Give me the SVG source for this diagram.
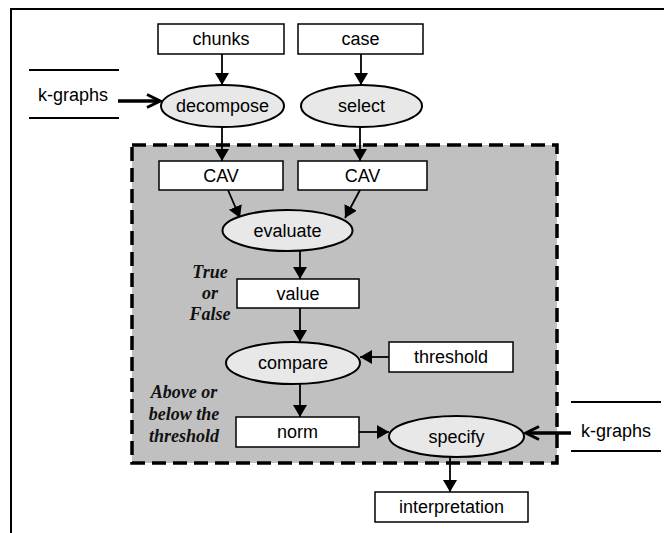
<svg xmlns="http://www.w3.org/2000/svg" width="664" height="533" viewBox="0 0 664 533">
<defs>
<style>
.box{fill:#fff;stroke:#000;stroke-width:1.5}
.ell{fill:#e8e8e8;stroke:#000;stroke-width:2}
.t{font-family:"Liberation Sans",Arial,sans-serif;font-size:18px;text-anchor:middle;fill:#000}
.it{font-family:"Liberation Serif","Times New Roman",serif;font-size:18px;font-style:italic;font-weight:bold;text-anchor:middle;fill:#111}
.c{stroke:#000;stroke-width:1.8;fill:none}
.k{stroke:#000;stroke-width:3.5;fill:none}
.rule{stroke:#000;stroke-width:2}
</style>
<marker id="ah" viewBox="0 0 12 14" refX="12" refY="7" markerWidth="12" markerHeight="14" markerUnits="userSpaceOnUse" orient="auto"><path d="M0,0 L12,7 L0,14 z" fill="#000"/></marker>
<marker id="ao" viewBox="0 0 16 16" refX="14" refY="8" markerWidth="16" markerHeight="16" markerUnits="userSpaceOnUse" orient="auto"><path d="M1,1.5 L14,8 L1,14.5" fill="none" stroke="#000" stroke-width="3"/></marker>
</defs>
<rect width="664" height="533" fill="#fff"/>
<g id="frame">
<path d="M11,533 L11,9 L664,9" fill="none" stroke="#000" stroke-width="2"/>
</g>
<g id="group-box">
<rect x="132" y="145" width="425" height="318" fill="#c0c0c0" stroke="#000" stroke-width="3.5" stroke-dasharray="14,7"/>
</g>
<g id="connectors">
<line class="c" x1="222" y1="54" x2="222" y2="85" marker-end="url(#ah)"/>
<line class="c" x1="361" y1="54" x2="361" y2="85" marker-end="url(#ah)"/>
<line class="c" x1="222" y1="127" x2="222" y2="161" marker-end="url(#ah)"/>
<line class="c" x1="360" y1="127" x2="360" y2="161" marker-end="url(#ah)"/>
<line class="c" x1="228" y1="190" x2="240" y2="218" marker-end="url(#ah)"/>
<line class="c" x1="360" y1="190" x2="345" y2="218" marker-end="url(#ah)"/>
<line class="c" x1="300" y1="251" x2="300" y2="279" marker-end="url(#ah)"/>
<line class="c" x1="300" y1="308" x2="300" y2="342" marker-end="url(#ah)"/>
<line class="c" x1="389" y1="357" x2="360" y2="357" marker-end="url(#ah)"/>
<line class="c" x1="300" y1="384" x2="300" y2="417" marker-end="url(#ah)"/>
<line class="c" x1="359" y1="432" x2="389" y2="432" marker-end="url(#ah)"/>
<line class="c" x1="450" y1="457" x2="450" y2="492" marker-end="url(#ah)"/>
<line class="k" x1="118" y1="101" x2="160" y2="101" marker-end="url(#ao)"/>
<line class="k" x1="571" y1="433" x2="526" y2="433" marker-end="url(#ao)"/>
</g>
<g id="kgraphs-left">
<line class="rule" x1="29" y1="70" x2="119" y2="70"/>
<line class="rule" x1="29" y1="118" x2="119" y2="118"/>
<text class="t" x="73" y="101">k-graphs</text>
</g>
<g id="kgraphs-right">
<line class="rule" x1="571" y1="402" x2="661" y2="402"/>
<line class="rule" x1="571" y1="451" x2="661" y2="451"/>
<text class="t" x="616" y="437">k-graphs</text>
</g>
<g id="chunks"><rect class="box" x="158" y="24" width="126" height="30"/><text class="t" x="221" y="45">chunks</text></g>
<g id="case"><rect class="box" x="298" y="24" width="125" height="30"/><text class="t" x="360.5" y="45">case</text></g>
<g id="decompose"><ellipse class="ell" cx="222.5" cy="106" rx="61.5" ry="21"/><text class="t" x="222.5" y="112">decompose</text></g>
<g id="select"><ellipse class="ell" cx="361.5" cy="106" rx="60.5" ry="21"/><text class="t" x="361.5" y="112">select</text></g>
<g id="cav1"><rect class="box" x="159" y="161" width="124" height="29"/><text class="t" x="221" y="182">CAV</text></g>
<g id="cav2"><rect class="box" x="298" y="161" width="129" height="29"/><text class="t" x="362.5" y="182">CAV</text></g>
<g id="evaluate"><ellipse class="ell" cx="287.5" cy="230.5" rx="65" ry="20.5"/><text class="t" x="287.5" y="236.5">evaluate</text></g>
<g id="value"><rect class="box" x="237" y="279" width="122" height="29"/><text class="t" x="298" y="300">value</text></g>
<g id="compare"><ellipse class="ell" cx="293" cy="363" rx="67" ry="21"/><text class="t" x="293" y="369">compare</text></g>
<g id="threshold"><rect class="box" x="389" y="342" width="124" height="30"/><text class="t" x="451" y="363">threshold</text></g>
<g id="norm"><rect class="box" x="236" y="417" width="123" height="30"/><text class="t" x="297.5" y="438">norm</text></g>
<g id="specify"><ellipse class="ell" cx="456.5" cy="436.5" rx="67.5" ry="20.5"/><text class="t" x="456.5" y="442.5">specify</text></g>
<g id="interpretation"><rect class="box" x="375" y="492" width="153" height="30"/><text class="t" x="451.5" y="513">interpretation</text></g>
<g id="label-truefalse">
<text class="it" x="210" y="278">True</text>
<text class="it" x="210" y="299">or</text>
<text class="it" x="210" y="320">False</text>
</g>
<g id="label-above">
<text class="it" x="184" y="398">Above or</text>
<text class="it" x="184" y="420">below the</text>
<text class="it" x="184" y="442">threshold</text>
</g>
</svg>
